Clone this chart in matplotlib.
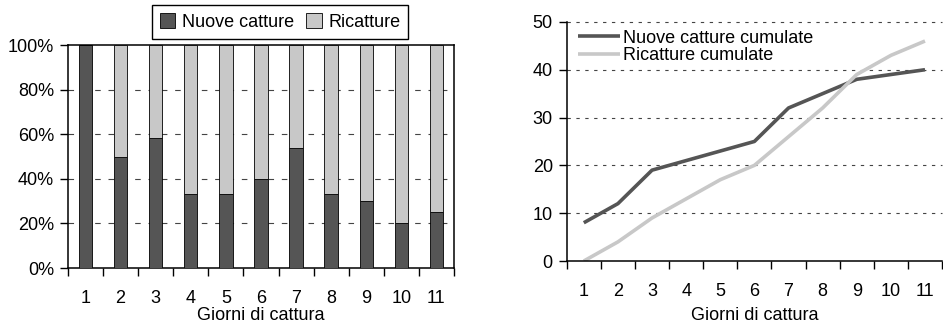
import matplotlib.pyplot as plt
from matplotlib.ticker import FixedLocator, NullFormatter, FixedFormatter

plt.rcParams['font.family'] = ['Liberation Sans', 'DejaVu Sans']

giorni = ['1', '2', '3', '4', '5', '6', '7', '8', '9', '10', '11']
nuove_pct = [100, 50, 58.3, 33.3, 33.3, 40, 53.8, 33.3, 30, 20, 25]
ricatture_pct = [0, 50, 41.7, 66.7, 66.7, 60, 46.2, 66.7, 70, 80, 75]
nuove_cum = [8, 12, 19, 21, 23, 25, 32, 35, 38, 39, 40]
ricatture_cum = [0, 4, 9, 13, 17, 20, 26, 32, 39, 43, 46]

scuro = '#555555'
chiaro = '#c8c8c8'
fs = 13

fig = plt.figure(figsize=(9.43, 3.24), dpi=100)

# --- grafico a barre in percentuale
ax1 = fig.add_axes([0.0721, 0.1728, 0.4093, 0.688])
x = list(range(1, len(giorni) + 1))
ax1.bar(x, nuove_pct, width=0.38, color=scuro, edgecolor='black', linewidth=0.6,
        label='Nuove catture', zorder=3)
ax1.bar(x, ricatture_pct, width=0.38, bottom=nuove_pct, color=chiaro, edgecolor='black',
        linewidth=0.6, label='Ricatture', zorder=3)
ax1.set_xlim(0.5, 11.5)
ax1.set_ylim(0, 100)
ax1.set_yticks([0, 20, 40, 60, 80, 100])
ax1.set_yticklabels(['0%', '20%', '40%', '60%', '80%', '100%'])
for yv in [20, 40, 60, 80]:
    ax1.axhline(yv, color='#444444', lw=0.8, ls=(0, (5, 7)), zorder=1)
ax1.set_xlabel('Giorni di cattura', fontsize=fs, labelpad=0)

# --- grafico cumulato
ax2 = fig.add_axes([0.601, 0.1944, 0.398, 0.738])
ax2.plot(x, nuove_cum, color=scuro, lw=2.6, label='Nuove catture cumulate', solid_capstyle='butt')
ax2.plot(x, ricatture_cum, color=chiaro, lw=2.6, label='Ricatture cumulate', solid_capstyle='butt')
ax2.set_xlim(0.5, 11.5)
ax2.set_ylim(0, 50)
ax2.set_yticks([0, 10, 20, 30, 40, 50])
for yv in [10, 20, 30, 40, 50]:
    ax2.axhline(yv, color='#444444', lw=0.8, ls=(0, (3, 5)), zorder=0, clip_on=False)
ax2.spines['top'].set_visible(False)
ax2.spines['right'].set_visible(False)
ax2.set_xlabel('Giorni di cattura', fontsize=fs, labelpad=5)

for ax in (ax1, ax2):
    ax.xaxis.set_major_locator(FixedLocator([i + 0.5 for i in range(0, 12)]))
    ax.xaxis.set_major_formatter(NullFormatter())
    ax.xaxis.set_minor_locator(FixedLocator(x))
    ax.xaxis.set_minor_formatter(FixedFormatter(giorni))
    ax.tick_params(axis='x', which='minor', length=0, pad=16, labelsize=fs)
    ax.tick_params(axis='x', which='major', length=6, width=1, direction='out')
    ax.tick_params(axis='y', length=6, width=1, labelsize=fs, pad=4)
    for s in ax.spines.values():
        s.set_linewidth(1.1)

h, l = ax1.get_legend_handles_labels()
fig.legend(h, l, loc='center', bbox_to_anchor=(0.297, 0.932), ncol=2, fontsize=fs,
           frameon=True, fancybox=False, edgecolor='black', framealpha=1,
           handlelength=0.85, handleheight=0.85, handletextpad=0.35, columnspacing=0.7,
           borderpad=0.45)

ax2.legend(loc='upper left', bbox_to_anchor=(0.016, 0.99), fontsize=fs, frameon=False,
           handlelength=2.3, handletextpad=0.2, labelspacing=0.03, borderaxespad=0,
           borderpad=0.3)

fig.savefig('out.png', dpi=100)
